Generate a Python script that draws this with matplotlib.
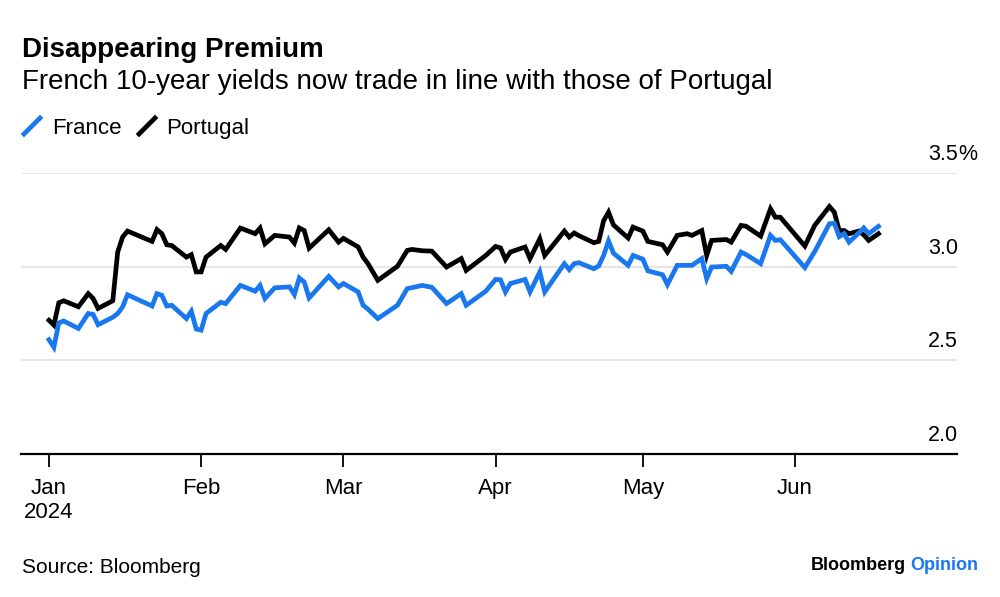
import numpy as np
import pandas as pd
import matplotlib
matplotlib.use("Agg")
import matplotlib.pyplot as plt
import matplotlib.dates as mdates
import matplotlib.transforms as mtransforms
from matplotlib.lines import Line2D

plt.rcParams['font.family'] = ['Liberation Sans', 'DejaVu Sans']

# vertices (10-year yields, %)
dates = ['2024-01-01', '2024-01-02', '2024-01-03', '2024-01-04', '2024-01-07',
         '2024-01-09', '2024-01-10', '2024-01-11', '2024-01-14', '2024-01-15',
         '2024-01-16', '2024-01-17', '2024-01-22', '2024-01-23', '2024-01-24',
         '2024-01-25', '2024-01-26', '2024-01-29', '2024-01-30', '2024-01-31',
         '2024-02-01', '2024-02-02', '2024-02-05', '2024-02-06', '2024-02-09',
         '2024-02-12', '2024-02-13', '2024-02-14', '2024-02-16', '2024-02-19',
         '2024-02-20', '2024-02-21', '2024-02-22', '2024-02-23', '2024-02-27',
         '2024-02-29', '2024-03-01', '2024-03-04', '2024-03-05', '2024-03-06',
         '2024-03-08', '2024-03-12', '2024-03-14', '2024-03-15', '2024-03-17',
         '2024-03-19', '2024-03-22', '2024-03-25', '2024-03-26', '2024-03-30',
         '2024-04-01', '2024-04-02', '2024-04-03', '2024-04-04', '2024-04-07',
         '2024-04-08', '2024-04-10', '2024-04-11', '2024-04-15', '2024-04-16',
         '2024-04-17', '2024-04-18', '2024-04-21', '2024-04-22', '2024-04-23',
         '2024-04-24', '2024-04-25', '2024-04-28', '2024-04-29', '2024-05-01',
         '2024-05-02', '2024-05-05', '2024-05-06', '2024-05-08', '2024-05-10',
         '2024-05-11', '2024-05-13', '2024-05-14', '2024-05-15', '2024-05-18',
         '2024-05-19', '2024-05-21', '2024-05-22', '2024-05-25', '2024-05-27',
         '2024-05-28', '2024-05-29', '2024-06-03', '2024-06-05', '2024-06-08',
         '2024-06-09', '2024-06-10', '2024-06-11', '2024-06-12', '2024-06-14',
         '2024-06-15', '2024-06-16', '2024-06-18']

france = [2.61, 2.57, 2.70, 2.71, 2.67, 2.75, 2.745, 2.69, 2.73, 2.75,
          2.785, 2.85, 2.79, 2.856, 2.847, 2.79, 2.794, 2.723, 2.762, 2.667,
          2.661, 2.75, 2.81, 2.803, 2.90, 2.869, 2.90, 2.83, 2.887, 2.892,
          2.851, 2.94, 2.918, 2.833, 2.948, 2.892, 2.91, 2.865, 2.794, 2.773,
          2.723, 2.794, 2.883, 2.888, 2.90, 2.89, 2.803, 2.856, 2.794, 2.869,
          2.932, 2.93, 2.865, 2.91, 2.932, 2.865, 2.972, 2.865, 3.016, 2.984,
          3.016, 3.021, 2.989, 3.004, 3.06, 3.137, 3.072, 3.007, 3.06, 3.04,
          2.978, 2.957, 2.904, 3.007, 3.007, 3.007, 3.043, 2.936, 2.998, 3.002,
          2.975, 3.078, 3.065, 3.016, 3.167, 3.14, 3.144, 2.995, 3.08, 3.229,
          3.232, 3.16, 3.176, 3.131, 3.18, 3.207, 3.176, 3.215]

portugal = [2.714, 2.688, 2.807, 2.818, 2.786, 2.856, 2.83, 2.777, 2.818, 3.078,
            3.158, 3.19, 3.135, 3.198, 3.176, 3.117, 3.113, 3.051, 3.064, 2.972,
            2.972, 3.051, 3.113, 3.092, 3.206, 3.176, 3.206, 3.122, 3.167, 3.158,
            3.126, 3.207, 3.193, 3.099, 3.197, 3.131, 3.151, 3.105, 3.051, 3.016,
            2.927, 3.002, 3.087, 3.092, 3.085, 3.083, 2.998, 3.043, 2.98, 3.06,
            3.108, 3.10, 3.039, 3.078, 3.105, 3.043, 3.149, 3.06, 3.19, 3.158,
            3.18, 3.165, 3.128, 3.135, 3.245, 3.291, 3.223, 3.153, 3.211, 3.19,
            3.135, 3.117, 3.078, 3.167, 3.176, 3.167, 3.193, 3.06, 3.14, 3.145,
            3.131, 3.22, 3.216, 3.163, 3.309, 3.264, 3.264, 3.11, 3.22, 3.321,
            3.291, 3.193, 3.193, 3.176, 3.19, 3.17, 3.14, 3.176]

month_ticks = ['2024-01-01', '2024-02-01', '2024-03-01', '2024-04-01',
               '2024-05-01', '2024-06-01']
month_labels = ['Jan\n2024', 'Feb', 'Mar', 'Apr', 'May', 'Jun']
y_ticks = [2.0, 2.5, 3.0, 3.5]

blue = '#1a78ef'

t = pd.to_datetime(dates)

fig = plt.figure(figsize=(10, 5.97), dpi=100)
W, H = 1000, 597
ax = fig.add_axes([21 / W, 1 - 454 / H, (957 - 21) / W, (454 - 173) / H])

ax.plot(t, portugal, color='black', lw=3.4, solid_joinstyle='miter')
ax.plot(t, france, color=blue, lw=3.4, solid_joinstyle='miter')

x0 = mdates.date2num(pd.Timestamp('2024-01-01'))
ax.set_xlim(x0 - 5.7, x0 + 185)
ax.set_ylim(2.0, 3.5)

for v in y_ticks[1:]:
    ax.axhline(v, color='#e6e6e6', lw=1.5, zorder=0)

for s in ['top', 'left', 'right']:
    ax.spines[s].set_visible(False)
ax.spines['bottom'].set_linewidth(1.6)

ax.set_yticks([])
ax.set_xticks(pd.to_datetime(month_ticks))
ax.set_xticklabels(month_labels, fontsize=16, linespacing=1.2)
ax.tick_params(axis='x', length=9, width=1.3, pad=8, color='black')

# y labels sit above the gridlines on the right
off = mtransforms.ScaledTranslation(0, 0.13, fig.dpi_scale_trans)
trans = mtransforms.blended_transform_factory(ax.transAxes, ax.transData) + off
for v in y_ticks:
    ax.text(1.001, v, f'{v:.1f}', transform=trans, ha='right', va='baseline',
            fontsize=15.5)
ax.text(1.001, 3.5, '%', transform=trans, ha='left', va='baseline', fontsize=15.5)

# header
fig.text(22 / W, 1 - 57 / H, 'Disappearing Premium', fontsize=20,
         fontweight='bold', va='baseline')
fig.text(22 / W, 1 - 89 / H,
         'French 10-year yields now trade in line with those of Portugal',
         fontsize=20, va='baseline')

# legend
fig.add_artist(Line2D([24 / W, 40 / W], [1 - 134 / H, 1 - 118 / H],
                      transform=fig.transFigure, color=blue, lw=3.4))
fig.text(52 / W, 1 - 134 / H, 'France', fontsize=16, va='baseline')
fig.add_artist(Line2D([139 / W, 155 / W], [1 - 134 / H, 1 - 118 / H],
                      transform=fig.transFigure, color='black', lw=3.4))
fig.text(166 / W, 1 - 134 / H, 'Portugal', fontsize=16, va='baseline')

# footer
fig.text(22 / W, 1 - 573 / H, 'Source: Bloomberg', fontsize=15, va='baseline')
fig.text(906 / W, 1 - 570 / H, 'Bloomberg', fontsize=13, fontweight='bold',
         ha='right', va='baseline')
fig.text(910 / W, 1 - 570 / H, 'Opinion', fontsize=13, fontweight='bold',
         color=blue, ha='left', va='baseline')

fig.savefig('out.png', dpi=100)
